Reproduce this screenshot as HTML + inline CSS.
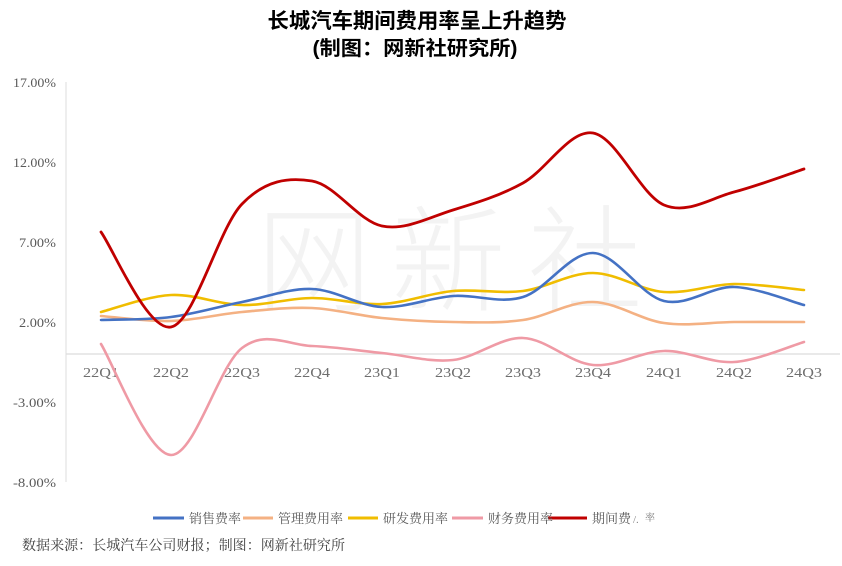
<!DOCTYPE html>
<html>
<head>
<meta charset="utf-8">
<style>
html,body{margin:0;padding:0;background:#fff;}
body{width:842px;height:566px;overflow:hidden;}
svg{display:block;}
.cjk{font-family:"Liberation Sans","Noto Sans CJK SC",sans-serif;}
.cjks{font-family:"Liberation Serif","Noto Serif CJK SC",serif;}
.ser{font-family:"Liberation Serif","Noto Serif CJK SC",serif;}
</style>
</head>
<body>
<svg id="c" width="842" height="566" viewBox="0 0 842 566" xmlns="http://www.w3.org/2000/svg">
  <rect width="842" height="566" fill="#fff"/>
  <!-- watermark -->
  <g class="cjk" font-size="115" fill="#f3f3f3" text-anchor="middle" font-weight="300">
    <text x="314" y="302">网</text>
    <text x="448" y="302">新</text>
    <text x="585" y="302">社</text>
  </g>
  <!-- title -->
  <g class="cjk" font-weight="bold" fill="#000" text-anchor="middle">
    <text x="417" y="28" font-size="21" textLength="299" lengthAdjust="spacingAndGlyphs">长城汽车期间费用率呈上升趋势</text>
    <text x="415" y="55" font-size="20" textLength="205" lengthAdjust="spacingAndGlyphs">(制图：网新社研究所)</text>
  </g>
  <!-- axes -->
  <line x1="66" y1="82" x2="66" y2="482" stroke="#e3e3e3" stroke-width="1.2"/>
  <line x1="66" y1="354" x2="840" y2="354" stroke="#dcdcdc" stroke-width="1.2"/>
  <!-- y ticks -->
  <g class="ser" font-size="13" fill="#595959" text-anchor="end">
    <text x="56" y="87" textLength="43" lengthAdjust="spacingAndGlyphs">17.00%</text>
    <text x="56" y="167" textLength="43" lengthAdjust="spacingAndGlyphs">12.00%</text>
    <text x="56" y="247" textLength="37" lengthAdjust="spacingAndGlyphs">7.00%</text>
    <text x="56" y="327" textLength="37" lengthAdjust="spacingAndGlyphs">2.00%</text>
    <text x="56" y="407" textLength="43" lengthAdjust="spacingAndGlyphs">-3.00%</text>
    <text x="56" y="487" textLength="43" lengthAdjust="spacingAndGlyphs">-8.00%</text>
  </g>
  <!-- x ticks -->
  <g class="ser" font-size="14" fill="#6e6e6e" text-anchor="middle">
    <text x="101" y="377" textLength="36" lengthAdjust="spacingAndGlyphs">22Q1</text>
    <text x="171" y="377" textLength="36" lengthAdjust="spacingAndGlyphs">22Q2</text>
    <text x="242" y="377" textLength="36" lengthAdjust="spacingAndGlyphs">22Q3</text>
    <text x="312" y="377" textLength="36" lengthAdjust="spacingAndGlyphs">22Q4</text>
    <text x="382" y="377" textLength="36" lengthAdjust="spacingAndGlyphs">23Q1</text>
    <text x="453" y="377" textLength="36" lengthAdjust="spacingAndGlyphs">23Q2</text>
    <text x="523" y="377" textLength="36" lengthAdjust="spacingAndGlyphs">23Q3</text>
    <text x="593" y="377" textLength="36" lengthAdjust="spacingAndGlyphs">23Q4</text>
    <text x="664" y="377" textLength="36" lengthAdjust="spacingAndGlyphs">24Q1</text>
    <text x="734" y="377" textLength="36" lengthAdjust="spacingAndGlyphs">24Q2</text>
    <text x="804" y="377" textLength="36" lengthAdjust="spacingAndGlyphs">24Q3</text>
  </g>
  <g id="series" fill="none" stroke-linecap="round" stroke-linejoin="round"></g>
  <!-- legend -->
  <g stroke-width="3">
    <line x1="153" y1="518" x2="184" y2="518" stroke="#4472c4"/>
    <line x1="243" y1="518" x2="273" y2="518" stroke="#f4b183"/>
    <line x1="348" y1="518" x2="378" y2="518" stroke="#f0bd00"/>
    <line x1="452" y1="518" x2="483" y2="518" stroke="#ef9aa5"/>
    <line x1="548" y1="518" x2="587" y2="518" stroke="#c00000"/>
  </g>
  <g class="cjks" font-size="13" fill="#595959">
    <text x="189" y="523" textLength="52" lengthAdjust="spacingAndGlyphs">销售费率</text>
    <text x="278" y="523" textLength="65" lengthAdjust="spacingAndGlyphs">管理费用率</text>
    <text x="383" y="523" textLength="65" lengthAdjust="spacingAndGlyphs">研发费用率</text>
    <text x="488" y="523" textLength="65" lengthAdjust="spacingAndGlyphs">财务费用率</text>
    <text x="592" y="523" textLength="39" lengthAdjust="spacingAndGlyphs">期间费</text>
    <text x="633" y="523" font-size="11" fill="#888">/.</text>
    <text x="645" y="521" font-size="10" fill="#777">率</text>
  </g>
  <!-- source -->
  <text class="cjks" x="22" y="550" font-size="14" fill="#404040" textLength="323" lengthAdjust="spacingAndGlyphs">数据来源：长城汽车公司财报；制图：网新社研究所</text>
</svg>
<script>
(function(){
  var xs=[101,171,242,312,382,453,523,593,664,734,804];
  var series=[
    {c:"#ef9aa5",w:2.6,y:[344,455,348,346,353,360,338,365,351,362,342]},
    {c:"#f4b183",w:2.6,y:[316,321,312,308,318,322,320,302,323,322,322]},
    {c:"#f0bd00",w:2.6,y:[312,295,305,298,304,291,291,273,292,284,290]},
    {c:"#4472c4",w:2.6,y:[320,317,302,289,307,296,297,253,301,287,305]},
    {c:"#c00000",w:2.8,y:[232,327,204,181,226,210,183,133,205,192,169]}
  ];
  var g=document.getElementById("series");
  var ns="http://www.w3.org/2000/svg";
  series.forEach(function(s){
    var n=xs.length, P=[];
    for(var i=0;i<n;i++)P.push([xs[i],s.y[i]]);
    var d="M"+P[0][0]+","+P[0][1];
    for(var i=0;i<n-1;i++){
      var p0=P[Math.max(i-1,0)],p1=P[i],p2=P[i+1],p3=P[Math.min(i+2,n-1)];
      var t=1/6;
      var c1x=p1[0]+(p2[0]-p0[0])*t, c1y=p1[1]+(p2[1]-p0[1])*t;
      var c2x=p2[0]-(p3[0]-p1[0])*t, c2y=p2[1]-(p3[1]-p1[1])*t;
      d+=" C"+c1x.toFixed(2)+","+c1y.toFixed(2)+" "+c2x.toFixed(2)+","+c2y.toFixed(2)+" "+p2[0]+","+p2[1];
    }
    var p=document.createElementNS(ns,"path");
    p.setAttribute("d",d);
    p.setAttribute("stroke",s.c);
    p.setAttribute("stroke-width",s.w);
    g.appendChild(p);
  });
})();
</script>
</body>
</html>
